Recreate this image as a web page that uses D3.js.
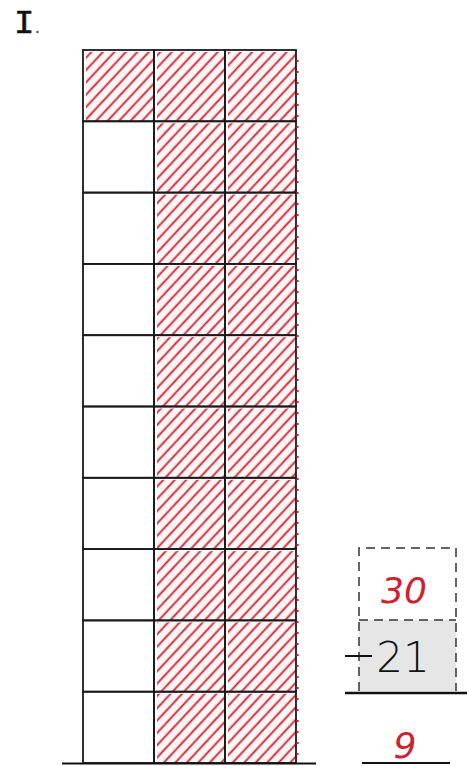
<!DOCTYPE html>
<html>
<head>
<meta charset="utf-8">
<script src="https://cdn.jsdelivr.net/npm/d3@7"></script>
<style>
  body { margin: 0; background: #fff; }
  svg { display: block; }
</style>
</head>
<body>
<div id="chart"></div>
<script>
// grid: 10 rows of 3 cells, shaded cells = taken away
var rows = ["r1","r2","r3","r4","r5","r6","r7","r8","r9","r10"];
var cols = ["c1","c2","c3"];
var shadedCols = [3, 2, 2, 2, 2, 2, 2, 2, 2, 2]; // shaded cells per row, counted from the right
var total = 30, taken = 21, left = 9;
var label = "I";

var W = 469, H = 766;
var red = "#d01f30";

var svg = d3.select("#chart").append("svg")
    .attr("width", W).attr("height", H);

var defs = svg.append("defs");
var pat = defs.append("pattern")
    .attr("id", "hatch")
    .attr("patternUnits", "userSpaceOnUse")
    .attr("width", 8.4).attr("height", 8.4)
    .attr("patternTransform", "rotate(43)");
pat.append("rect").attr("width", 8.4).attr("height", 8.4).attr("fill", "#fbf6f5");
pat.append("line")
    .attr("x1", 1.5).attr("y1", 0).attr("x2", 1.5).attr("y2", 8.4)
    .attr("stroke", red).attr("stroke-width", 1.8);

var x = d3.scaleBand().domain(cols).range([83, 296]);
var y = d3.scaleBand().domain(rows).range([50, 763]);

// cells
var cells = [];
rows.forEach(function(r, i){
    cols.forEach(function(c, j){
        cells.push({row: r, col: c, shaded: j >= cols.length - shadedCols[i]});
    });
});

var g = svg.append("g");

g.selectAll("rect.fill")
    .data(cells.filter(function(d){ return d.shaded; }))
    .enter().append("rect")
    .attr("class", "fill")
    .attr("x", function(d){ return x(d.col) + 3; })
    .attr("y", function(d){ return y(d.row) + 2; })
    .attr("width", x.bandwidth() - 3)
    .attr("height", y.bandwidth() - 2)
    .attr("fill", "url(#hatch)");

g.selectAll("rect.cell")
    .data(cells)
    .enter().append("rect")
    .attr("class", "cell")
    .attr("x", function(d){ return x(d.col); })
    .attr("y", function(d){ return y(d.row); })
    .attr("width", x.bandwidth())
    .attr("height", y.bandwidth())
    .attr("fill", "none")
    .attr("stroke", "#1a1a1a")
    .attr("stroke-width", 1.8);

// red ticks on right edge
g.append("line")
    .attr("x1", x.range()[1] + 1.5).attr("x2", x.range()[1] + 1.5)
    .attr("y1", y.range()[0] + 10).attr("y2", y.range()[1])
    .attr("stroke", red).attr("stroke-width", 2.2)
    .attr("stroke-dasharray", "2,9");

// baseline
svg.append("line")
    .attr("x1", 62).attr("x2", 316)
    .attr("y1", 763.5).attr("y2", 763.5)
    .attr("stroke", "#111").attr("stroke-width", 2.2);

// label
svg.append("text")
    .attr("x", 14).attr("y", 33)
    .attr("font-family", "Liberation Mono, monospace")
    .attr("font-size", 34)
    .attr("stroke", "#111")
    .attr("stroke-width", 0.6)
    .attr("fill", "#111")
    .text(label);
svg.append("circle")
    .attr("cx", 37.5).attr("cy", 32)
    .attr("r", 1.2)
    .attr("fill", "#555");

// subtraction on the right
var bx = 359, bw = 97;
var top1 = 548, mid = 620, bot = 691;

svg.append("rect")
    .attr("x", bx).attr("y", mid).attr("width", bw).attr("height", bot - mid)
    .attr("fill", "#e6e6e6");

svg.append("path")
    .attr("d", "M" + bx + "," + bot + "V" + top1 + "H" + (bx + bw) + "V" + bot)
    .attr("fill", "none").attr("stroke", "#333").attr("stroke-width", 1.5)
    .attr("stroke-dasharray", "9,6");
svg.append("line")
    .attr("x1", bx).attr("x2", bx + bw).attr("y1", mid).attr("y2", mid)
    .attr("stroke", "#333").attr("stroke-width", 1.5)
    .attr("stroke-dasharray", "9,6");

svg.append("text")
    .attr("x", 404).attr("y", 603)
    .attr("text-anchor", "middle")
    .attr("font-family", "DejaVu Sans, sans-serif")
    .attr("font-style", "italic")
    .attr("font-size", 36)
    .attr("fill", red)
    .text(total);

svg.append("text")
    .attr("x", 403).attr("y", 672)
    .attr("text-anchor", "middle")
    .attr("font-family", "DejaVu Sans, sans-serif")
    .attr("font-weight", 300)
    .attr("font-size", 42)
    .attr("fill", "#111")
    .text(taken);

// minus sign
svg.append("line")
    .attr("x1", 345).attr("x2", 372).attr("y1", 656).attr("y2", 656)
    .attr("stroke", "#111").attr("stroke-width", 2);

svg.append("line")
    .attr("x1", 345).attr("x2", 467).attr("y1", 693).attr("y2", 693)
    .attr("stroke", "#111").attr("stroke-width", 2.5);

svg.append("text")
    .attr("x", 405).attr("y", 758)
    .attr("text-anchor", "middle")
    .attr("font-family", "DejaVu Sans, sans-serif")
    .attr("font-style", "italic")
    .attr("font-size", 36)
    .attr("fill", red)
    .text(left);

svg.append("line")
    .attr("x1", 362).attr("x2", 450).attr("y1", 763).attr("y2", 763)
    .attr("stroke", "#111").attr("stroke-width", 2);
</script>
</body>
</html>
